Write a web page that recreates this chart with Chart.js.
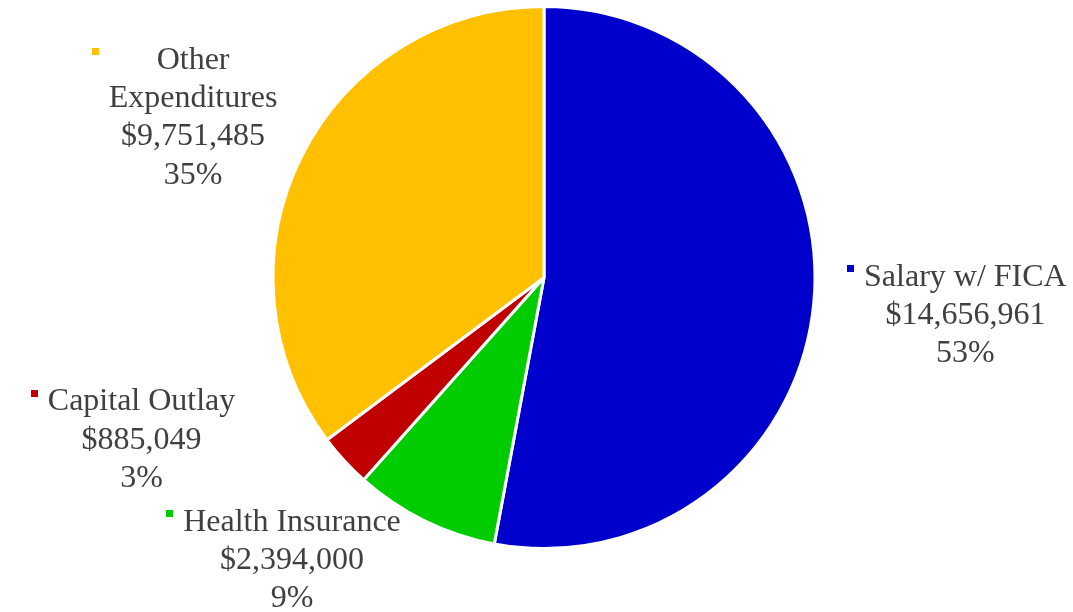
<!DOCTYPE html>
<html>
<head>
<meta charset="utf-8">
<script src="https://cdn.jsdelivr.net/npm/chart.js@4"></script>
<style>
  html, body { margin: 0; padding: 0; background: #fff; }
  #wrap { width: 1073px; height: 612px; position: relative; }
</style>
</head>
<body>
<div id="wrap"><canvas id="pieChart"></canvas></div>
<script>
// Budget breakdown
const categories = ["Salary w/ FICA", "Health Insurance", "Capital Outlay", "Other Expenditures"];
const amounts = [14656961, 2394000, 885049, 9751485];
const percentLabels = ["53%", "9%", "3%", "35%"];
const sliceColors = ["#0000CC", "#00CC00", "#C00000", "#FFC000"];

// label layout: how each label block is split into lines, and where it sits (in radius units from the centre)
const labelLines = [["Salary w/ FICA"], ["Health Insurance"], ["Capital Outlay"], ["Other", "Expenditures"]];
const labelShift = [[1.555, 0.14], [-0.93, 1.045], [-1.485, 0.60], [-1.295, -0.589]];

const fmtMoney = (v) => "$" + v.toLocaleString("en-US");

const sliceLabels = {
  id: "sliceLabels",
  afterDraw(chart) {
    const ctx = chart.ctx;
    const meta = chart.getDatasetMeta(0);
    ctx.save();
    ctx.font = "32px 'Liberation Serif', 'Times New Roman', serif";
    ctx.textAlign = "center";
    ctx.textBaseline = "middle";
    const lh = 38.3;
    meta.data.forEach((arc, i) => {
      const r = arc.outerRadius;
      const cx = arc.x + labelShift[i][0] * r;
      const cy = arc.y + labelShift[i][1] * r;
      const lines = labelLines[i].concat([fmtMoney(amounts[i]), percentLabels[i]]);
      const top = cy - ((lines.length - 1) * lh) / 2;
      let maxW = 0;
      lines.forEach((t) => { maxW = Math.max(maxW, ctx.measureText(t).width); });
      ctx.fillStyle = "#404040";
      lines.forEach((t, k) => ctx.fillText(t, cx, top + k * lh));
      // small legend key
      ctx.fillStyle = sliceColors[i];
      ctx.fillRect(Math.round(cx - maxW / 2 - 17), Math.round(top - 12), 7, 7);
    });
    ctx.restore();
  },
};

const ctx = document.getElementById("pieChart").getContext("2d");
const pieChart = new Chart(ctx, {
  type: "pie",
  data: {
    labels: categories,
    datasets: [
      {
        data: amounts,
        backgroundColor: sliceColors,
        borderColor: "#ffffff",
        borderWidth: 3,
      },
    ],
  },
  options: {
    responsive: true,
    maintainAspectRatio: false,
    animation: false,
    layout: { padding: { top: 5, bottom: 62, left: 15, right: 0 } },
    plugins: {
      legend: { display: false },
      tooltip: { enabled: false },
    },
  },
  plugins: [sliceLabels],
});
</script>
</body>
</html>
